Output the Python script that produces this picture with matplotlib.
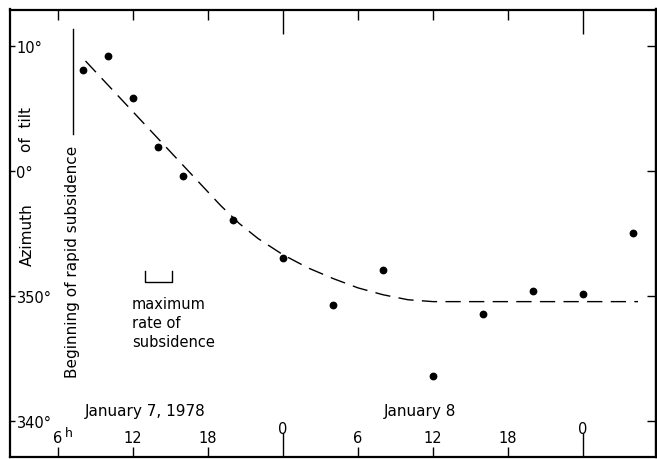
import matplotlib
matplotlib.use("Agg")
import matplotlib.pyplot as plt

# ---- data (hours counted from January 7, 1978, 0h) ----
hours = [8, 10, 12, 14, 16, 20, 24, 28, 32, 36, 40, 44, 48, 52]
azimuth = [8.1, 9.2, 5.8, 1.9, -0.4, -3.9, -7.0, -10.7, -7.9, -16.4, -11.4, -9.6, -9.8, -5.0]

trend_hours = [8.2, 19.0, 20.5, 22.0, 24.0, 26.0, 28.0, 30.0, 32.0, 34.0, 36.0, 52.4]
trend_azimuth = [8.8, -2.75, -4.2, -5.4, -6.7, -7.75, -8.6, -9.35, -9.9, -10.3, -10.45, -10.45]

midnight_ticks = [24, 48]
midnight_labels = ["0", "0"]
hour_ticks = [6, 12, 18, 30, 36, 42]
hour_labels = ["6", "12", "18", "6", "12", "18"]
y_ticks = [10, 0, -10, -20]
y_labels = ["10°", "0°", "350°", "340°"]

onset_hour = 7.2
max_rate_start, max_rate_end = 12.96, 15.12

plt.rcParams["font.family"] = ["DejaVu Sans"]

fig = plt.figure(figsize=(6.57, 4.6), dpi=100)
ax = fig.add_axes([9.5 / 657, 2.5 / 460, 646.5 / 657, 447 / 460])
ax.set_xlim(2.12, 53.84)
ax.set_ylim(-22.84, 12.92)

for s in ax.spines.values():
    s.set_linewidth(1.6)
    s.set_color("black")

# data
ax.plot(trend_hours, trend_azimuth, color="black", lw=1.0, linestyle=(0, (11, 6)))
ax.plot(hours, azimuth, "o", color="black", markersize=4.6)

# x ticks
ax.set_xticks(midnight_ticks, midnight_labels)
ax.set_xticks(hour_ticks, hour_labels, minor=True)
ax.tick_params(axis="x", which="major", direction="in", length=17, width=1.0,
               top=True, bottom=True, pad=-25.6, labelsize=10.5)
ax.tick_params(axis="x", which="minor", direction="in", length=7, width=1.0,
               top=True, bottom=True, pad=-19, labelsize=10.5)
ax.text(6.88, -20.9, "h", fontsize=9, ha="center", va="center")

# y ticks
ax.set_yticks(y_ticks, y_labels)
ax.tick_params(axis="y", which="major", direction="in", length=3.6, width=1.0,
               left=True, right=False, pad=-5, labelsize=10.5)
for lbl in ax.get_yticklabels():
    lbl.set_horizontalalignment("left")
sec = ax.secondary_yaxis("right")
sec.set_yticks(y_ticks)
sec.tick_params(direction="in", length=6.5, width=1.0, labelright=False)
sec.spines["right"].set_linewidth(1.6)

# axis title split around the 0° label
ax.text(3.52, -5.04, "Azimuth", rotation=90, ha="center", va="center", fontsize=11)
ax.text(3.52, 3.36, "of  tilt", rotation=90, ha="center", va="center", fontsize=11)

# beginning of rapid subsidence
ax.plot([onset_hour, onset_hour], [11.36, 2.96], color="black", lw=1.0)
ax.text(onset_hour, -7.2, "Beginning of rapid subsidence", rotation=90,
        ha="center", va="center", fontsize=11)

# maximum rate bracket
ax.plot([max_rate_start, max_rate_start, max_rate_end, max_rate_end],
        [-8.0, -8.88, -8.88, -8.0], color="black", lw=1.0)
ax.text(11.9, -12.1, "maximum\nrate of\nsubsidence", ha="left", va="center",
        fontsize=10.5, linespacing=1.35)

# dates
ax.text(13.0, -19.2, "January 7, 1978", ha="center", va="center", fontsize=11)
ax.text(35.0, -19.2, "January 8", ha="center", va="center", fontsize=11)

fig.savefig("out.png", dpi=100)
